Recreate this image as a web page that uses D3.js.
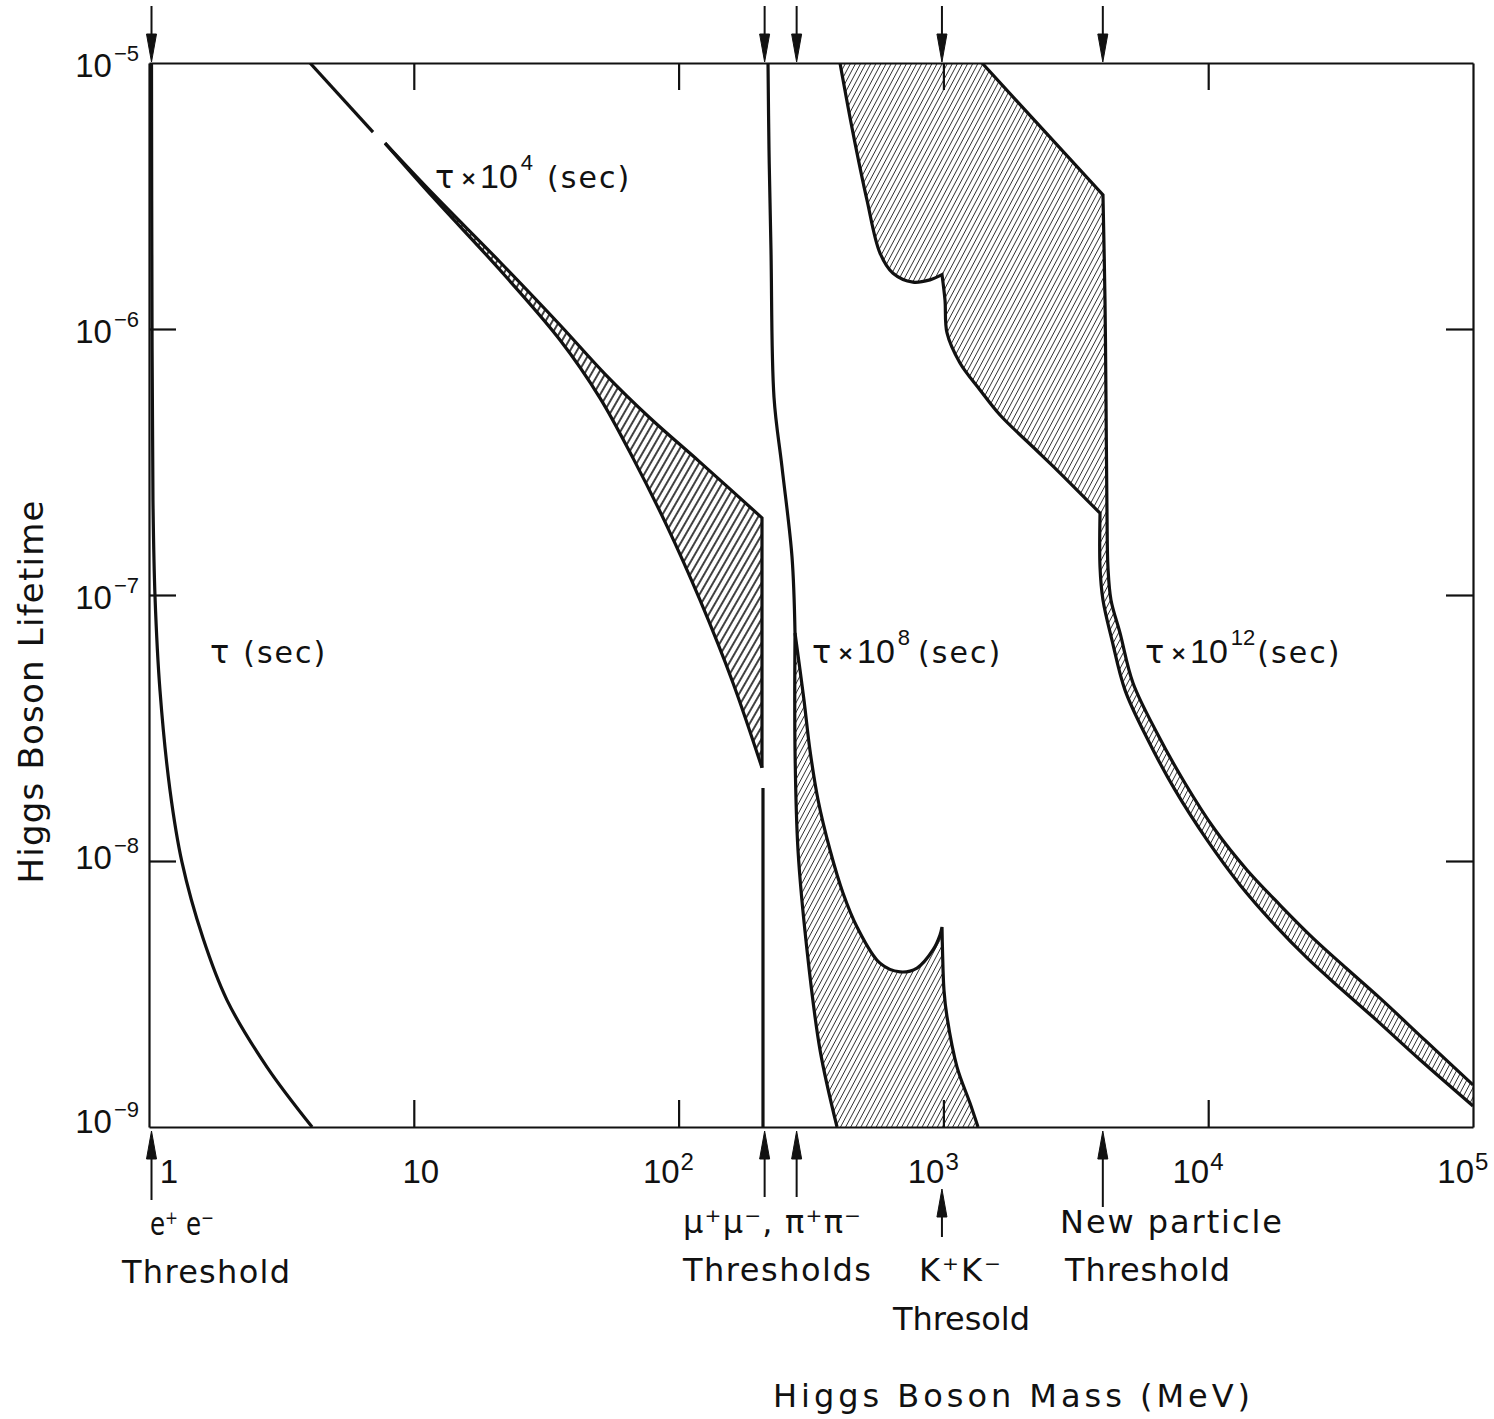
<!DOCTYPE html>
<html>
<head>
<meta charset="utf-8">
<script src="https://cdn.jsdelivr.net/npm/d3@7"></script>
<style>
  body { margin: 0; background: #fff; }
  svg { display: block; }
  .word { font-family: "DejaVu Sans", sans-serif; fill: #111; }
  .num { font-family: "Liberation Sans Narrow", "Liberation Sans", sans-serif; fill: #111; }
</style>
</head>
<body>
<svg id="chart" width="1494" height="1419"></svg>
<script>
// ---- values (mass in MeV, lifetime in s) ----
const massTicks = [10, 100, 1000, 10000];
const lifeTicks = [1e-6, 1e-7, 1e-8];
const xTickValues = [1, 10, 100, 1000, 10000, 100000];
const xTickBases = ["1", "10", "10", "10", "10", "10"];
const xTickExps = ["", "", "2", "3", "4", "5"];
const yTickValues = [1e-5, 1e-6, 1e-7, 1e-8, 1e-9];
const yTickExps = ["\u22125", "\u22126", "\u22127", "\u22128", "\u22129"];
const thresholds = [1.022, 211.3, 279.1, 987.4, 4000];

// tau (sec)
const tauCurve = [[1.022,1e-5],[1.026,1.29e-6],[1.035,2.28e-7],[1.054,9.8e-8],[1.100,4.39e-8],[1.20,1.85e-8],[1.332,9.9e-9],[1.599,5.13e-9],[1.97,3.0e-9],[2.79,1.68e-9],[4.13,1e-9]];

// tau x 10^4
const tau4Head = [[4.055,1e-5],[7.015,5.5e-6]];
const tau4Upper = [[7.785,5.0e-6],[11.82,3.22e-6],[21.16,1.786e-6],[35.66,1.035e-6],[52.74,6.77e-7],[77.98,4.63e-7],[120.4,3.16e-7],[206.5,1.95e-7]];
const tau4Edge = [[206.5,1.95e-7],[206.5,2.24e-8]];
const tau4Lower = [[7.785,5.0e-6],[11.82,3.13e-6],[21.16,1.666e-6],[35.66,9.09e-7],[50.5,5.50e-7],[67.27,3.27e-7],[90.4,1.816e-7],[120.4,9.58e-8],[160.5,4.67e-8],[206.5,2.24e-8]];
const tau4Drop = [[208.3,1.88e-8],[208.3,1e-9]];

// tau x 10^8
const tau8LeftTop = [[217.6,1e-5],[219.5,4.71e-6],[223.3,1.98e-6],[229.2,5.55e-7],[245.7,3.03e-7],[268.1,1.39e-7],[275.2,7.2e-8]];
const tau8LeftLow = [[275.2,7.2e-8],[275.2,2.61e-8],[282.4,1.10e-8],[305.4,4.63e-9],[342.0,1.95e-9],[396.5,1e-9]];
const tau8RightA = [[275.2,7.2e-8],[297.5,4.03e-8],[313.4,2.61e-8],[336.1,1.70e-8],[373.1,1.10e-8],[417.6,7.58e-9],[471.8,5.65e-9],[576.2,4.13e-9],[685.8,3.83e-9],[794.9,3.96e-9],[913.4,4.63e-9],[970.9,5.27e-9],[987.9,5.65e-9]];
const tau8RightB = [[987.9,5.65e-9],[992.2,4.63e-9],[1005,3.27e-9],[1032,2.59e-9],[1126,1.68e-9],[1260,1.23e-9],[1351,1e-9]];

// tau x 10^12
const tau12LowerA = [[406.9,1e-5],[455.6,5.46e-6],[514.6,3.05e-6],[576.2,1.93e-6],[645.2,1.62e-6],[767.7,1.50e-6],[889.9,1.53e-6],[987.9,1.60e-6]];
const tau12LowerB = [[987.9,1.60e-6],[1014,1.285e-6],[1032,9.66e-7],[1155,7.45e-7],[1375,5.90e-7],[1636,4.75e-7],[2180,3.60e-7],[2685,2.95e-7],[3904,2.03e-7]];
const tau12LowerC = [[3904,2.03e-7],[3904,1.27e-7],[4005,9.58e-8],[4331,6.77e-8],[4851,4.39e-8],[5925,2.85e-8],[7492,1.85e-8],[9897,1.20e-8],[13190,8.13e-9],[17880,5.74e-9],[23620,4.32e-9],[31460,3.33e-9],[41930,2.59e-9],[63080,1.79e-9],[100000,1.20e-9]];
const tau12UpperA = [[1399,1e-5],[4005,3.19e-6]];
const tau12UpperB = [[4005,3.19e-6],[4076,1.285e-6],[4112,5.41e-7],[4148,2.00e-7],[4183,1.27e-7],[4294,9.58e-8],[4645,7.20e-8],[5200,4.67e-8],[6406,3.03e-8],[8175,1.96e-8],[10610,1.31e-8],[14010,9.25e-9],[18670,6.83e-9],[24880,5.13e-9],[33150,3.96e-9],[44550,3.05e-9],[65880,2.12e-9],[100000,1.44e-9]];

// ---- layout ----
const svg = d3.select("#chart");
const x = d3.scaleLog().domain([1, 1e5]).range([149, 1473]);
const y = d3.scaleLog().domain([1e-9, 1e-5]).range([1127, 63]);
const TICK = 27;

svg.append("rect").attr("width", 1494).attr("height", 1419).attr("fill", "#fff");

const defs = svg.append("defs");
defs.append("clipPath").attr("id", "plot")
	.append("rect").attr("x", 149).attr("y", 63).attr("width", 1324).attr("height", 1064);

function hatch (id, gap, angle, width, color) {
	const p = defs.append("pattern")
		.attr("id", id)
		.attr("patternUnits", "userSpaceOnUse")
		.attr("width", gap).attr("height", gap)
		.attr("patternTransform", `rotate(${angle})`);
	p.append("line")
		.attr("x1", gap / 2).attr("y1", 0)
		.attr("x2", gap / 2).attr("y2", gap)
		.attr("stroke", color).attr("stroke-width", width);
}
hatch("hatchBold", 6, 30, 1.6, "#111");
hatch("hatchFine", 4.5, 28, 0.9, "#333");

const line = d3.line()
	.x(d => x(d[0]))
	.y(d => y(d[1]))
	.curve(d3.curveCatmullRom.alpha(0.5));

// join several smooth pieces into one path
const joined = segs => segs.map((s, i) => i ? line(s).replace(/^M/, "L") : line(s)).join("");
const reversed = segs => segs.slice().reverse().map(s => s.slice().reverse());

const plot = svg.append("g").attr("clip-path", "url(#plot)");

// hatched areas
plot.append("path")
	.attr("d", joined([tau4Upper, tau4Edge, ...reversed([tau4Lower])]) + "Z")
	.attr("fill", "url(#hatchBold)");
plot.append("path")
	.attr("d", joined([tau8RightA, tau8RightB, ...reversed([tau8LeftLow])]) + "Z")
	.attr("fill", "url(#hatchFine)");
plot.append("path")
	.attr("d", joined([tau12LowerA, tau12LowerB, tau12LowerC, ...reversed([tau12UpperA, tau12UpperB])]) + "Z")
	.attr("fill", "url(#hatchFine)");

// curves
const curves = [
	[tauCurve],
	[tau4Head],
	[tau4Upper, tau4Edge],
	[tau4Lower],
	[tau4Drop],
	[tau8LeftTop, tau8LeftLow],
	[tau8RightA, tau8RightB],
	[tau12LowerA, tau12LowerB, tau12LowerC],
	[tau12UpperA, tau12UpperB]
];
plot.selectAll(".curve")
	.data(curves)
	.enter()
	.append("path")
	.attr("class", "curve")
	.attr("d", d => joined(d))
	.attr("fill", "none")
	.attr("stroke", "#111")
	.attr("stroke-width", 3.2)
	.attr("stroke-linejoin", "miter");

// frame and ticks
function frame (g) {
	g.selectAll(".domain, .tick line").attr("stroke", "#111").attr("stroke-width", 2.2);
}
svg.append("g").attr("transform", "translate(0,1127)")
	.call(d3.axisBottom(x).tickValues(massTicks).tickSizeInner(-TICK).tickSizeOuter(0).tickFormat(""))
	.call(frame);
svg.append("g").attr("transform", "translate(0,63)")
	.call(d3.axisTop(x).tickValues(massTicks).tickSizeInner(-TICK).tickSizeOuter(0).tickFormat(""))
	.call(frame);
svg.append("g").attr("transform", "translate(149,0)")
	.call(d3.axisLeft(y).tickValues(lifeTicks).tickSizeInner(-TICK).tickSizeOuter(0).tickFormat(""))
	.call(frame);
svg.append("g").attr("transform", "translate(1473,0)")
	.call(d3.axisRight(y).tickValues(lifeTicks).tickSizeInner(-TICK).tickSizeOuter(0).tickFormat(""))
	.call(frame);

// x tick labels
xTickValues.forEach((v, i) => {
	const px = x(v);
	if (xTickExps[i]) {
		svg.append("text").attr("class", "num").attr("x", px + 1).attr("y", 1183)
			.attr("text-anchor", "end").attr("font-size", 33).text(xTickBases[i]);
		svg.append("text").attr("class", "num").attr("x", px + 2).attr("y", 1170)
			.attr("font-size", 24).text(xTickExps[i]);
	} else {
		svg.append("text").attr("class", "num").attr("x", px + (v === 1 ? 20 : 7)).attr("y", 1183)
			.attr("text-anchor", "middle").attr("font-size", 33).text(xTickBases[i]);
	}
});

// y tick labels
yTickValues.forEach((v, i) => {
	const base = y(v) + (v === 1e-9 ? 6 : (v === 1e-8 ? 8 : 14));
	const t = svg.append("text").attr("class", "num")
		.attr("x", 139).attr("y", base).attr("text-anchor", "end").attr("font-size", 33);
	t.append("tspan").text("10");
	t.append("tspan").attr("dx", 2).attr("dy", -16).attr("font-size", 22).text(yTickExps[i]);
});

// threshold arrows
const arrowHead = (px, tip, dir) => `M${px},${tip}L${px - 5},${tip - dir * 28}L${px + 5},${tip - dir * 28}Z`;
const arrows = svg.append("g").attr("stroke", "#111").attr("fill", "#111");
thresholds.forEach(m => {
	const px = x(m);
	arrows.append("line").attr("x1", px).attr("x2", px).attr("y1", 6).attr("y2", 50).attr("stroke-width", 2);
	arrows.append("path").attr("d", arrowHead(px, 62, 1)).attr("stroke-width", 1);
});
const bottomArrows = [
	{ m: thresholds[0], tip: 1131, end: 1200 },
	{ m: thresholds[1], tip: 1131, end: 1197 },
	{ m: thresholds[2], tip: 1131, end: 1197 },
	{ m: thresholds[3], tip: 1189, end: 1237 },
	{ m: thresholds[4], tip: 1131, end: 1207 }
];
bottomArrows.forEach(a => {
	const px = x(a.m);
	arrows.append("line").attr("x1", px).attr("x2", px).attr("y1", a.tip + 12).attr("y2", a.end).attr("stroke-width", 2);
	arrows.append("path").attr("d", arrowHead(px, a.tip, -1)).attr("stroke-width", 1);
});

// threshold labels
const words = [
	{ t: "Threshold", x: 122, y: 1283, w: 168 },
	{ t: "\u03BC\u207A\u03BC\u207B, \u03C0\u207A\u03C0\u207B", x: 683, y: 1233, w: 178 },
	{ t: "Thresholds", x: 683, y: 1281, w: 188 },
	{ t: "K\u207AK\u207B", x: 919, y: 1281, w: 82 },
	{ t: "Thresold", x: 893, y: 1330, w: 137 },
	{ t: "New particle", x: 1060, y: 1233, w: 222 },
	{ t: "Threshold", x: 1065, y: 1281, w: 165 },
	{ t: "Higgs Boson Mass (MeV)", x: 773, y: 1407, w: 477 }
];
words.forEach(d => {
	svg.append("text").attr("class", "word")
		.attr("x", d.x).attr("y", d.y)
		.attr("font-size", 32)
		.attr("textLength", d.w).attr("lengthAdjust", "spacing")
		.text(d.t);
});
svg.append("text").attr("class", "word")
	.attr("x", 150).attr("y", 1235)
	.attr("font-size", 32)
	.attr("textLength", 64).attr("lengthAdjust", "spacingAndGlyphs")
	.text("e\u207A e\u207B");

svg.append("text").attr("class", "word")
	.attr("transform", "translate(43,692) rotate(-90)")
	.attr("text-anchor", "middle")
	.attr("font-size", 34)
	.attr("textLength", 383).attr("lengthAdjust", "spacing")
	.text("Higgs Boson Lifetime");

// curve labels
function tauLabel (x0, y0, exp, gap) {
	const t = svg.append("text").attr("class", "word").attr("x", x0).attr("y", y0).attr("font-size", 32);
	t.append("tspan").text("\u03C4");
	if (exp) {
		t.append("tspan").attr("dx", 6).attr("dy", -3).attr("font-size", 20).attr("font-weight", "bold").text("\u00D7");
		t.append("tspan").attr("class", "num").attr("dx", 3).attr("dy", 3).attr("font-size", 34).text("10");
		t.append("tspan").attr("class", "num").attr("dx", 3).attr("dy", -18).attr("font-size", 22).text(exp);
		t.append("tspan").attr("dx", gap).attr("dy", 18).attr("font-size", 30).attr("letter-spacing", 2).text("(sec)");
	} else {
		t.append("tspan").attr("dx", 14).attr("font-size", 30).attr("letter-spacing", 2).text("(sec)");
	}
}
tauLabel(210, 663, "", 0);
tauLabel(435, 188, "4", 14);
tauLabel(812, 663, "8", 8);
tauLabel(1145, 663, "12", 2);
</script>
</body>
</html>
